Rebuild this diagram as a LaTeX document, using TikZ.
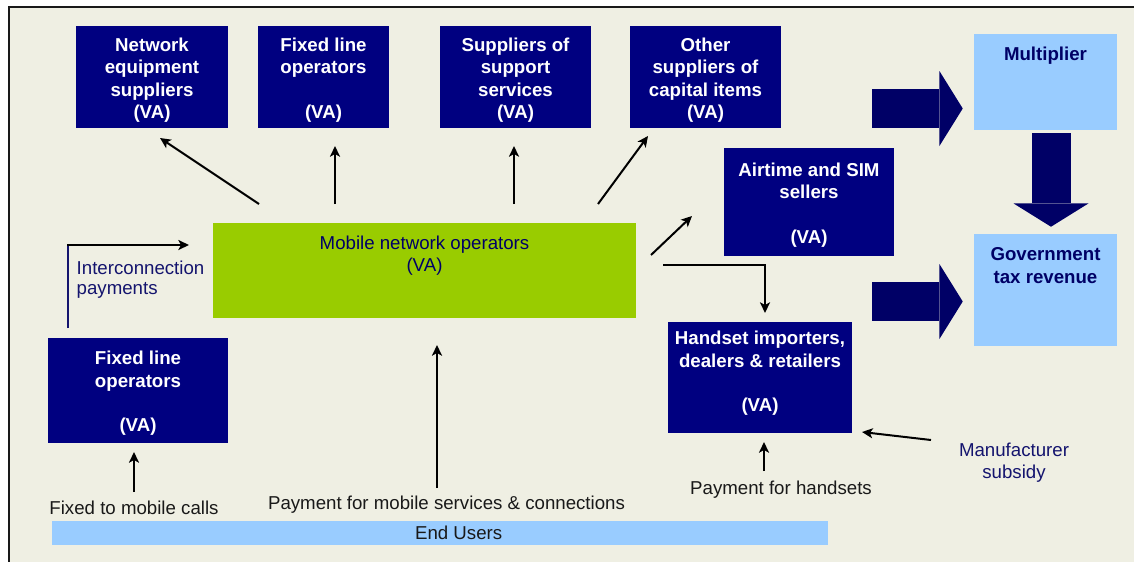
\documentclass[tikz,border=0pt]{standalone}
\usepackage{fontspec}
\setmainfont{Liberation Sans}
\usepackage{xcolor}
\usepackage{tikz}
\usetikzlibrary{arrows.meta}
\usetikzlibrary{positioning, calc}
\definecolor{boxblue}{RGB}{0,0,128}
\definecolor{deepblue}{RGB}{0,0,102}
\definecolor{paleblue}{RGB}{153,204,255}
\definecolor{limegreen}{RGB}{153,204,0}
\definecolor{navyink}{RGB}{20,20,110}
\definecolor{cream}{RGB}{239,239,227}
\definecolor{darkink}{RGB}{25,25,25}
\newcommand{\topgap}{\mbox{}\\[-2pt]}

\tikzset{
    vabox/.style={fill=boxblue, text=white, align=center, inner sep=0pt,
        font=\bfseries\fontsize{14}{16.7}\selectfont},
    palebox/.style={fill=paleblue, text=deepblue, align=center, inner sep=0pt,
        font=\bfseries\fontsize{14}{16.7}\selectfont},
    arr/.style={draw=black, line width=1.5pt, -{Stealth[length=8pt, width=7.5pt, inset=2pt]}},
    fat/.style={draw=deepblue, line width=29.25pt,
        -{Triangle[length=17.5pt, width=56.25pt, line width=0pt]}},
    flowtext/.style={text=darkink, align=center, font=\fontsize{14}{16.5}\selectfont},
}

\begin{document}
\begin{tikzpicture}[x=0.75pt, y=-0.75pt]
    \useasboundingbox (0,0) rectangle (1134,561);
    \fill[white] (0,0) rectangle (1134,561);
    \draw[fill=cream, draw=darkink, line width=1.5pt] (9,7) rectangle (1150,580);

    % suppliers along the top
    \node[vabox, minimum width=114pt, minimum height=76.5pt] (net) at (152,77)
        {\topgap Network\\equipment\\suppliers\\(VA)};
    \node[vabox, minimum width=98.25pt, minimum height=76.5pt] (fixtop) at (323.5,77)
        {\topgap Fixed line\\operators\\[16.7pt](VA)};
    \node[vabox, minimum width=113.25pt, minimum height=76.5pt] (supp) at (515.5,77)
        {\topgap Suppliers of\\support\\services\\(VA)};
    \node[vabox, minimum width=113.25pt, minimum height=76.5pt] (other) at (705.5,77)
        {\topgap Other\\suppliers of\\capital items\\(VA)};

    \node[vabox, minimum width=127.5pt, minimum height=81pt] (air) at (809,202)
        {\topgap Airtime and SIM\\sellers\\[16.7pt](VA)};
    \node[vabox, minimum width=138pt, minimum height=83.25pt] (hand) at (760,377.5)
        {\topgap Handset importers,\\dealers \& retailers\\[16.7pt](VA)\\[-3pt]\mbox{}};
    \node[vabox, minimum width=135pt, minimum height=78.75pt] (fixbot) at (138,390.5)
        {\topgap Fixed line\\operators\\[16.7pt](VA)};

    \node[fill=limegreen, text=deepblue, align=center, inner sep=0pt,
        font=\fontsize{14}{17}\selectfont, minimum width=317.25pt, minimum height=71.25pt]
        (mno) at (424.5,270.5) {\topgap Mobile network operators\\(VA)\\[13pt]\mbox{}};

    \node[palebox, minimum width=107.25pt, minimum height=72pt] (mult) at (1045.5,82)
        {\topgap Multiplier\\[31pt]\mbox{}};
    \node[palebox, minimum width=107.25pt, minimum height=84pt] (gov) at (1045.5,290)
        {\topgap Government\\tax revenue\\[25pt]\mbox{}};

    \node[fill=paleblue, text=darkink, inner sep=0pt, font=\fontsize{14}{16.5}\selectfont,
        minimum width=582pt, minimum height=18pt] (users) at (440,533)
        {\hspace*{28pt}End Users};

    % labels
    \node[flowtext, text=navyink, align=left, anchor=west,
        font=\fontsize{14}{15}\selectfont] (icpay) at (72,280) {Interconnection\\payments};
    \node[flowtext] (fmcalls) at (134,508) {Fixed to mobile calls};
    \node[flowtext] (paymob) at (446.5,505) {Payment for mobile services \& connections};
    \node[flowtext] (payhand) at (781,490) {Payment for handsets};
    \node[flowtext, text=navyink] (subsidy) at (1014,463) {Manufacturer\\subsidy};

    % free ends of the thin arrows
    \foreach \n/\x/\y in {
        netA/259/204, netB/160/138,
        fixA/335/204, fixB/335/146,
        suppA/514/204, suppB/514/146,
        othA/598/204, othB/648/136,
        airA/651/255, airB/692/216,
        callA/134/492, callB/134/452,
        mobA/437/488, mobB/437/345,
        handA/764/471, handB/764/442,
        subA/931/440, subB/862/432,
        icA/68/328, icB/68/245, icC/189/245,
        mnoA/663/265, mnoB/765/313}
        \coordinate (\n) at (\x,\y);

    \foreach \a/\b in {netA/netB, fixA/fixB, suppA/suppB, othA/othB, airA/airB,
        callA/callB, mobA/mobB, handA/handB, subA/subB}
        \draw[arr] (\a) -- (\b);

    \draw[arr] (mnoA) -| (mnoB);
    \draw[navyink, line width=1.8pt] (icA) -- (icB);
    \draw[arr] ([xshift=-0.75pt]icB) -- (icC);

    % block arrows
    \coordinate (fatA) at (872,108.5);
    \coordinate (fatB) at (872,301.5);
    \draw[fat, shorten >=8.25pt] (fatA) -- (fatA -| mult.west);
    \draw[fat, shorten >=8.25pt] (fatB) -- (fatB -| gov.west);
    \draw[fat, shorten <=2.25pt, shorten >=5.25pt]
        ([shift={(5.5,0)}]mult.south) -- ([shift={(5.5,0)}]gov.north);
\end{tikzpicture}
\end{document}
